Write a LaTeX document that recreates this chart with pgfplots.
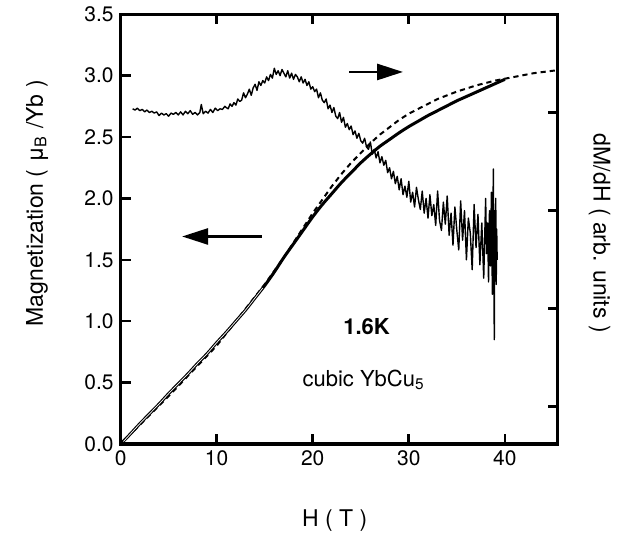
\documentclass[border=0pt]{standalone}
\usepackage{fontspec}
\setmainfont{TeX Gyre Heros}
\usepackage{pgfplots}
\pgfplotsset{compat=1.18}
\usetikzlibrary{arrows.meta}

\pgfplotsset{
  commonax/.style={
    scale only axis, width=218.55pt, height=214.85pt,
    xmin=0, xmax=45.5,
    tick align=inside, major tick length=5pt,
    every tick/.append style={black, line width=1.3pt},
    axis line style={line width=1.6pt},
    /pgf/number format/assume math mode=true,
    tick label style={font=\fontsize{10.5}{12}\selectfont},
    label style={font=\fontsize{11.5}{13}\selectfont},
  }
}

\begin{document}
\begin{tikzpicture}
\begin{axis}[commonax, name=main,
  ymin=0, ymax=3.5,
  xtick={0,10,20,30,40}, xtick pos=both, xticklabel pos=bottom,
  ytick={0,0.5,...,3.5}, ytick pos=left,
  yticklabel style={/pgf/number format/fixed, /pgf/number format/fixed zerofill, /pgf/number format/precision=1},
  xlabel={H ( T )},
  xlabel style={at={(rel axis cs:0.49,0)}, anchor=center, yshift=-38.5pt},
  ylabel={Magnetization ( μ\textsubscript{B} /Yb )},
  ylabel style={at={(rel axis cs:-0.191,0.56)}, anchor=center},
]
% dashed fit
\addplot[black, line width=1pt, dash pattern=on 2.6pt off 2pt] coordinates {
(0,0) (5,0.39) (10,0.80) (15,1.30) (17,1.52) (18,1.64) (19,1.76) (20,1.88)
(21,1.99) (22,2.10) (23,2.20) (24,2.29) (25,2.37) (26,2.45) (27,2.52) (28,2.58)
(29,2.64) (30,2.69) (31,2.73) (32,2.77) (33,2.81) (34,2.84) (35,2.87) (36,2.895)
(37,2.92) (38,2.94) (39,2.96) (40,2.975) (41,2.99) (42,3.005) (43,3.02) (44,3.03)
(45,3.04) (45.5,3.045)
};
% magnetization (solid)
\addplot[black, line width=1.5pt, smooth] coordinates {
(0,0) (1,0.08) (2,0.165) (3,0.245) (4,0.325) (5,0.41) (6,0.49) (7,0.57) (8,0.655)
(9,0.735) (10,0.825) (11,0.91) (12,1.0) (13,1.09) (14,1.19) (15,1.29) (16,1.40)
(17,1.52) (18,1.63) (19,1.74) (20,1.85) (21,1.95) (22,2.04) (23,2.13) (24,2.21)
(25,2.29) (26,2.36) (27,2.425) (28,2.48) (29,2.535) (30,2.585) (31,2.63) (32,2.675)
(33,2.715) (34,2.755) (35,2.795) (36,2.83) (37,2.865) (38,2.90) (39,2.935) (40,2.97)
};
% hysteresis gap (white core of the double line at low field)
\addplot[white, line width=0.35pt, smooth] coordinates {
(0.3,0.02) (1,0.08) (2,0.165) (3,0.245) (4,0.325) (5,0.41) (6,0.49) (7,0.57) (8,0.655)
(9,0.735) (10,0.825) (11,0.91) (12,1.0) (13,1.09) (14,1.19) (14.8,1.27)
};
% dM/dH (noisy derivative, in left-axis units)
\addplot[black, line width=0.7pt, line join=round] coordinates {
(1.25,2.73) (1.5,2.72) (1.75,2.735) (2.0,2.715) (2.25,2.725) (2.5,2.705) (2.75,2.72)
(3.0,2.70) (3.25,2.71) (3.5,2.695) (3.75,2.705) (4.0,2.675) (4.25,2.695) (4.5,2.68)
(4.75,2.69) (5.0,2.67) (5.25,2.695) (5.5,2.685) (5.75,2.70) (6.0,2.68) (6.25,2.705)
(6.5,2.68) (6.75,2.71) (7.0,2.69) (7.25,2.715) (7.5,2.685) (7.75,2.70) (8.0,2.68)
(8.25,2.70) (8.4,2.765) (8.6,2.69) (8.85,2.71) (9.1,2.695) (9.35,2.725) (9.6,2.70)
(9.85,2.735) (10.1,2.715) (10.35,2.73) (10.6,2.725) (10.85,2.75)
(11.0,2.74) (11.2,2.73) (11.4,2.77) (11.6,2.75) (11.8,2.78) (12.0,2.76) (12.2,2.81)
(12.4,2.79) (12.6,2.80) (12.8,2.86) (13.0,2.82) (13.2,2.85) (13.4,2.89) (13.6,2.84)
(13.8,2.90) (14.0,2.93) (14.2,2.88) (14.4,2.95) (14.6,2.92) (14.8,2.96) (15.0,2.94)
(15.2,2.99) (15.4,2.96) (15.6,3.01) (15.8,2.98) (16.0,3.06) (16.2,3.01) (16.4,3.04)
(16.6,3.00) (16.8,3.05) (17.0,3.02) (17.2,2.99) (17.4,3.04) (17.6,2.98) (17.8,3.02)
(18.0,2.97) (18.2,3.01) (18.4,2.99) (18.6,2.95) (18.8,2.99) (19.0,2.94) (19.2,2.97)
(19.4,2.92) (19.6,2.95) (19.8,2.89)
(20.0,2.91) (20.2,2.87) (20.4,2.89) (20.6,2.82) (20.8,2.86) (21.0,2.80) (21.2,2.78)
(21.4,2.81) (21.6,2.73) (21.8,2.76) (22.0,2.70) (22.2,2.74) (22.4,2.67) (22.6,2.65)
(22.8,2.70) (23.0,2.62) (23.2,2.66) (23.4,2.58) (23.6,2.61) (23.8,2.56) (24.0,2.59)
(24.2,2.52) (24.4,2.55) (24.6,2.49) (24.8,2.53) (25.0,2.47) (25.2,2.45) (25.4,2.49)
(25.6,2.42) (25.8,2.40) (26.0,2.46) (26.2,2.36) (26.4,2.40) (26.6,2.33) (26.8,2.38)
(27.0,2.29) (27.2,2.34) (27.4,2.27) (27.6,2.31) (27.8,2.21) (28.0,2.25) (28.2,2.16)
(28.4,2.22) (28.6,2.12) (28.8,2.18) (29.0,2.07) (29.2,2.16) (29.4,2.03) (29.6,2.10)
(29.8,2.01) (30.0,2.14) (30.2,1.97) (30.4,2.05) (30.6,1.93) (30.8,2.09) (31.0,1.99)
(31.2,1.91) (31.4,2.06) (31.6,1.88) (31.8,2.00) (32.0,1.84) (32.2,2.03) (32.4,1.86)
(32.6,1.95) (32.8,1.78) (33.0,2.06) (33.2,1.82) (33.4,1.74) (33.6,1.97) (33.8,1.79)
(34.0,2.02) (34.2,1.70) (34.4,1.88) (34.6,1.62) (34.8,1.93) (35.0,1.74) (35.2,1.58)
(35.4,1.98) (35.6,1.66) (35.8,1.90) (36.0,1.50) (36.2,1.84) (36.4,1.72) (36.6,1.42)
(36.8,1.95) (37.0,1.60) (37.2,1.87) (37.4,1.46) (37.6,1.80) (37.8,1.35) (38.0,2.00)
(38.1,1.55) (38.2,1.80) (38.3,1.32) (38.4,1.90) (38.5,1.45) (38.6,2.05) (38.7,1.22)
(38.8,2.24) (38.85,1.50) (38.9,0.85) (38.95,1.90) (39.0,1.40) (39.05,2.00) (39.1,1.30)
(39.15,1.75) (39.2,1.50)
};
\draw[black, line width=1.4pt, -{Triangle[length=13pt,width=8pt]}] (axis cs:23.8,3.03) -- (axis cs:29.4,3.03);
\draw[black, line width=1.3pt, -{Triangle[length=13pt,width=8pt]}] (axis cs:14.7,1.69) -- (axis cs:6.4,1.69);
\node[font=\bfseries\fontsize{11}{13}\selectfont] at (axis cs:25.6,0.96) {1.6K};
\node[font=\fontsize{11}{13}\selectfont] at (axis cs:25.3,0.52) {cubic YbCu\textsubscript{5}};
\end{axis}
\begin{axis}[commonax,
  ymin=0.617, ymax=5,
  hide x axis, axis y line*=right,
  ytick={1,2,3,4}, yticklabels={},
  ylabel={dM/dH ( arb. units )},
  ylabel style={at={(rel axis cs:1.096,0.49)}, anchor=center, rotate=180},
]
\addplot[draw=none] coordinates {(0,1) (45,4)};
\end{axis}
\path ([shift={(-60.3pt,-46pt)}]main.south west) rectangle ([shift={(35.65pt,6.65pt)}]main.north east);
\end{tikzpicture}
\end{document}
